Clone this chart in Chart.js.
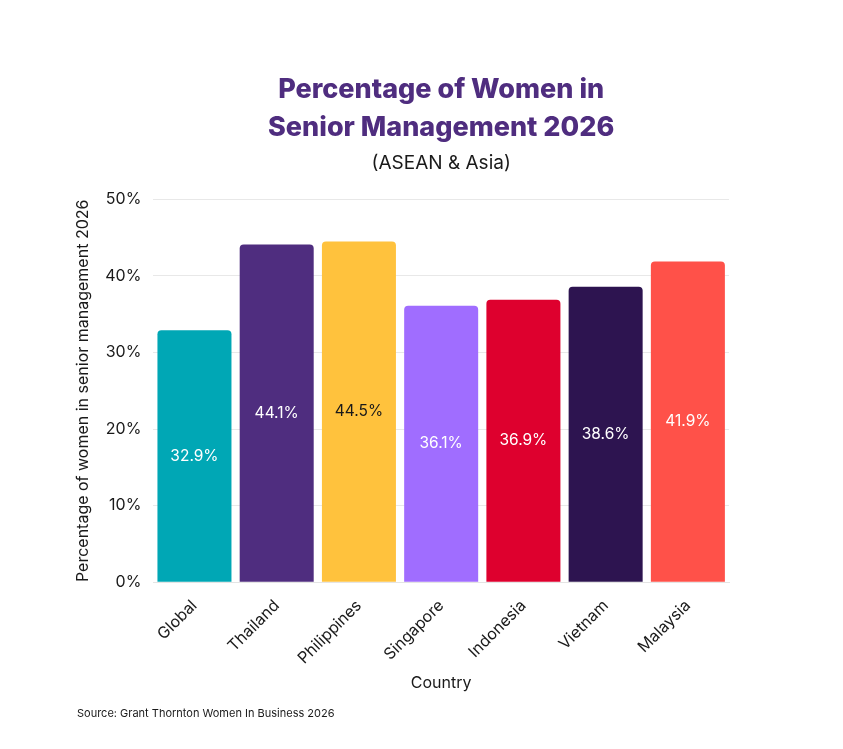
<!DOCTYPE html>
<html>
<head>
<meta charset="utf-8">
<script src="https://cdn.jsdelivr.net/npm/chart.js@4.4.1/dist/chart.umd.min.js"></script>
<style>
    html, body { margin: 0; padding: 0; background: #ffffff; }
    #wrap { width: 843px; height: 749px; position: relative; }
</style>
</head>
<body>
<div id="wrap"><canvas id="chart" width="843" height="749"></canvas></div>
<script>
// Chart data
const countries = ['Global', 'Thailand', 'Philippines', 'Singapore', 'Indonesia', 'Vietnam', 'Malaysia'];
const womenShare = [32.9, 44.1, 44.5, 36.1, 36.9, 38.6, 41.9];
const barColors = ['#00a7b5', '#4f2d7f', '#ffc23d', '#a06dff', '#de002e', '#2d1450', '#ff5149'];
const labelColors = ['#ffffff', '#ffffff', '#1a1a1a', '#ffffff', '#ffffff', '#ffffff', '#ffffff'];

const FONT = 'Inter, "Noto Sans", sans-serif';
const TEXT = '#1a1a1a';

// Value labels centred inside each bar
const barLabels = {
    id: 'barLabels',
    afterDatasetsDraw(chart) {
        const ctx = chart.ctx;
        const meta = chart.getDatasetMeta(0);
        ctx.save();
        ctx.font = '400 15.5px ' + FONT;
        ctx.textAlign = 'center';
        ctx.textBaseline = 'middle';
        meta.data.forEach((bar, i) => {
            const mid = (bar.y + bar.base) / 2;
            ctx.fillStyle = labelColors[i];
            ctx.fillText(womenShare[i].toFixed(1) + '%', bar.x, mid);
        });
        ctx.restore();
    }
};

// Source note bottom left
const sourceNote = {
    id: 'sourceNote',
    afterDraw(chart) {
        const ctx = chart.ctx;
        ctx.save();
        ctx.font = '400 11px ' + FONT;
        ctx.fillStyle = TEXT;
        ctx.textAlign = 'left';
        ctx.textBaseline = 'middle';
        ctx.fillText('Source: Grant Thornton Women In Business 2026', 77, 714);
        ctx.restore();
    }
};

new Chart(document.getElementById('chart'), {
    type: 'bar',
    data: {
        labels: countries,
        datasets: [{
            data: womenShare,
            backgroundColor: barColors,
            borderWidth: 0,
            borderRadius: { topLeft: 4, topRight: 4 },
            borderSkipped: 'bottom',
            barPercentage: 0.9,
            categoryPercentage: 1.0
        }]
    },
    options: {
        responsive: false,
        animation: false,
        layout: { padding: { left: 74, right: 114, top: 71, bottom: 56 } },
        plugins: {
            legend: { display: false },
            tooltip: { enabled: false },
            title: {
                display: true,
                fullSize: false,
                text: ['Percentage of Women in', 'Senior Management 2026'],
                color: '#4f2d7f',
                font: { family: FONT, size: 27, weight: '800', lineHeight: 1.4 },
                padding: { top: 0, bottom: 5 }
            },
            subtitle: {
                display: true,
                fullSize: false,
                text: '(ASEAN & Asia)',
                color: TEXT,
                font: { family: FONT, size: 19, weight: '400', lineHeight: 1.2 },
                padding: { top: 0, bottom: 25 }
            }
        },
        scales: {
            x: {
                grid: { display: false },
                border: { display: true, color: '#e4e4e4' },
                ticks: {
                    color: TEXT,
                    font: { family: FONT, size: 16 },
                    maxRotation: 45,
                    minRotation: 45,
                    padding: 6
                },
                title: {
                    display: true,
                    text: 'Country',
                    color: TEXT,
                    font: { family: FONT, size: 16 },
                    padding: { top: 0, bottom: 0 }
                }
            },
            y: {
                min: 0,
                max: 50,
                grid: { color: '#e8e8e8', drawTicks: false },
                border: { display: false },
                ticks: {
                    stepSize: 10,
                    color: TEXT,
                    padding: 12,
                    font: { family: FONT, size: 16 },
                    callback: v => v + '%'
                },
                title: {
                    display: true,
                    text: 'Percentage of women in senior management 2026',
                    color: TEXT,
                    font: { family: FONT, size: 16 },
                    padding: { top: 0, bottom: 0 }
                }
            }
        }
    },
    plugins: [barLabels, sourceNote]
});
</script>
</body>
</html>
